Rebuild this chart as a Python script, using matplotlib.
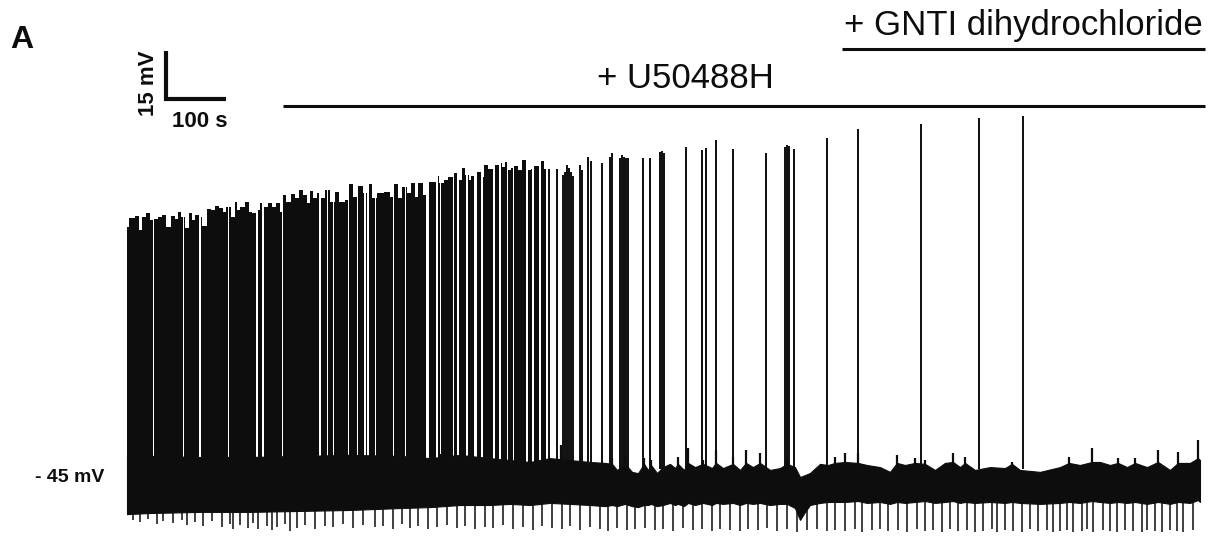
import matplotlib
matplotlib.use("Agg")
import matplotlib.pyplot as plt

# ---------------- data (time in s from trace start, membrane potential in mV) ----------------
# upper envelope of the dense firing period (spike tips)
burst_t = [0, 8.3, 16.7, 21.7, 28.3, 35, 41.7, 48.3, 55, 61.7, 68.3, 76.7, 83.3, 86.7, 93.3, 100,
           105, 110, 116.7, 121.7, 128.3, 136.7, 143.3, 150, 156.7, 163.3, 168.3, 176.7, 181.7, 185,
           193.3, 200, 205, 211.7, 218.3, 225, 231.7, 238.3, 245, 251.7, 258.3, 263.3, 268.3, 276.7,
           283.3, 290, 296.7, 301.7, 308.3, 313.3, 320, 326.7, 333.3, 343.3, 350, 358.3, 366.7, 371.7,
           381.7, 388.3, 396.7, 405, 411.7, 421.7, 435, 441.7, 446.7, 455, 461.7, 470, 476.7, 483.3,
           488.3, 496.7, 505, 511.7, 518.3, 523.3, 531.7, 538.3, 546.7, 555, 560, 566.7, 571.7, 575,
           580, 588.3, 593.3, 598.3, 605, 616.7, 621.7, 626.7, 631.7, 638.3, 643.3, 648.3, 655, 663.3,
           670, 675, 683.3, 693.3, 698.3]
burst_top = [35.6, 38.4, 39.1, 34.7, 38.75, 40.0, 37.8, 38.1, 38.75, 39.4, 35.6, 39.1, 38.1, 40.3,
             38.75, 35.3, 40.0, 37.8, 39.4, 38.75, 35.9, 41.25, 40.9, 42.2, 41.6, 40.3, 41.9, 38.75,
             43.4, 40.9, 41.9, 43.4, 40.3, 40.0, 40.9, 43.1, 41.9, 43.1, 41.9, 43.1, 40.3, 45.6, 43.4,
             45.9, 44.7, 47.2, 45.6, 43.1, 46.9, 44.7, 46.25, 44.7, 47.2, 43.4, 46.6, 43.4, 44.1, 49.1,
             45.0, 48.4, 46.25, 49.1, 44.7, 46.25, 46.6, 45.0, 49.1, 44.7, 48.1, 46.25, 49.4, 45.0,
             49.4, 45.6, 49.7, 49.7, 51.6, 49.4, 50.3, 51.25, 52.5, 50.3, 54.1, 51.9, 50.3, 51.6,
             53.4, 52.8, 51.25, 55.0, 53.75, 55.0, 55.6, 54.4, 55.9, 53.4, 54.1, 54.7, 53.4, 56.6,
             53.4, 53.75, 54.7, 56.25, 53.75]

# short silent intervals inside the dense firing period
gap_start = [42.5, 92.5, 120.8, 167.5, 215.8, 225.8, 257.5, 304.2, 309.2, 320.8, 332.5, 342.5,
             354.2, 367.5, 382.5, 395.8, 400.8, 412.5, 429.2, 442.5, 454.2, 462.5, 474.2, 484.2,
             498.3, 515, 521.7, 529.2, 542.5, 550, 554.2, 565.8, 578.3, 590.8, 599.2, 610, 620.8,
             632.5, 642.5, 654.2, 665.8, 675.8, 686.7]
gap_end = [44.2, 94.2, 122.5, 169.2, 217.5, 227.5, 259.2, 305.8, 310.8, 322.5, 334.2, 344.2,
           355.8, 369.2, 384.2, 397.5, 402.5, 414.2, 430.8, 444.2, 455.8, 464.2, 475.8, 485.8,
           503.3, 517.5, 523.3, 530.8, 544.2, 552.5, 555.8, 567.5, 583.3, 592.5, 600.8, 613.3, 622.5,
           634.2, 644.2, 655.8, 667.5, 678.3, 690]

# isolated action potentials after the dense period
spike_t = [703.3, 716.7, 726.7, 730, 733.3, 736.7, 740, 743.3, 755, 758.3, 768.3, 773.3, 791.7,
           805, 808.3, 821.7, 825, 828.3, 831.7, 835, 860, 871.7, 888.3, 891.7, 895, 931.7, 958.3,
           965, 981.7, 1010, 1065, 1096.7, 1100, 1103.3, 1111.7, 1166.7, 1218.3, 1323.3, 1420,
           1493.3]
spike_peak = [53.75, 53.75, 51.9, 52.8, 55.0, 54.1, 52.8, 51.6, 55.0, 53.4, 57.5, 56.25, 55.6,
              57.5, 58.75, 57.2, 58.1, 57.5, 57.2, 57.2, 57.2, 57.2, 59.1, 59.4, 58.75, 60.6, 59.7,
              60.3, 62.8, 60.0, 58.75, 60.6, 61.25, 60.9, 60.0, 63.4, 66.25, 67.8, 69.7, 70.3]

# noisy sub-threshold baseline: upper / lower edges
band_t = [0, 38.3, 121.7, 205, 288.3, 371.7, 455, 505, 555, 605, 638.3, 671.7, 705, 738.3, 771.7,
          796.7, 808.3, 816.7, 830, 841.7, 851.7, 861.7, 868.3, 873.3, 883.3, 893.3, 905, 913.3,
          918.3, 928.3, 935, 946.7, 960, 975, 981.7, 993.3, 1010, 1021.7, 1031.7, 1043.3, 1055,
          1071.7, 1088.3, 1100, 1113.3, 1121.7, 1130, 1138.3, 1155, 1168.3, 1180, 1196.7, 1218.3,
          1233.3, 1255, 1271.7, 1283.3, 1296.7, 1313.3, 1330, 1346.7, 1363.3, 1376.7, 1388.3,
          1396.7, 1413.3, 1438.3, 1463.3, 1475, 1488.3, 1521.7, 1555, 1570, 1588.3, 1608.3, 1621.7,
          1638.3, 1651.7, 1666.7, 1680, 1700, 1718.3, 1738.3, 1751.7, 1771.7, 1785, 1788.3]
band_hi = [-35.6, -35.9, -36.25, -36.25, -35.9, -35.6, -35.9, -36.6, -35.6, -36.6, -37.2, -37.8,
           -36.6, -37.2, -37.8,
           -38.1, -38.4, -40.3, -38.4, -40.9, -41.3, -38.4, -40.3, -38.75, -41.25, -39.4, -38.4,
           -39.7, -38.4, -40.3, -38.1, -39.4, -38.4, -39.7, -38.1, -39.7, -38.4, -40.3, -38.1,
           -39.4, -38.1, -40.3, -39.7, -38.4, -39.4, -42.5, -41.9, -41.25, -38.4, -38.75, -38.1,
           -37.8, -38.1, -38.75, -39.4, -40.9, -38.1, -38.75, -38.1, -38.4, -40.3, -38.1, -37.8,
           -39.4, -38.1, -40.3, -39.4, -39.7, -38.4, -40.3, -40.9, -39.4, -38.1, -38.75, -37.8,
           -37.8, -38.75, -38.1, -39.4, -38.1, -39.4, -37.8, -40.3, -38.1, -38.1, -36.6, -37.2]
band_lo = [-54.1, -53.75, -53.4, -53.4, -53.1, -52.8, -52.2, -51.9, -51.25, -51.25, -50.9, -51.25,
           -50.6, -50.9, -51.25, -51.6, -51.25, -51.6, -50.9, -51.6, -51.9, -51.25, -51.25, -50.9,
           -51.6, -51.25, -50.6, -51.25, -50.9, -51.6, -50.6, -51.25, -50.6, -51.25, -50.6, -50.9,
           -50.6, -51.25, -50.6, -50.9, -50.6, -51.25, -50.9, -50.9, -52.2, -55.9, -53.4, -51.25,
           -50.6, -50.3, -50.3, -50.3, -50.0, -50.6, -50.3, -50.9, -50.3, -50.6, -50.3, -50.0,
           -50.6, -50.3, -50.0, -50.6, -50.3, -50.6, -50.3, -50.6, -50.3, -50.6, -50.9, -50.6,
           -50.3, -50.6, -50.0, -50.3, -50.6, -50.3, -50.6, -50.3, -50.9, -50.3, -50.9, -50.3,
           -50.6, -49.7, -50.3]

# brief depolarising noise peaks riding on the baseline
noise_t = [521.7, 571.7, 655, 723.3, 808.3, 830, 861.7, 873.3, 918.3, 935, 960, 981.7, 1010,
           1031.7, 1055, 1100, 1180, 1196.7, 1218.3, 1283.3, 1313.3, 1330, 1376.7, 1396.7, 1475,
           1570, 1608.3, 1651.7, 1680, 1718.3, 1751.7, 1785]
noise_v = [-35.3, -35.9, -36.6, -32.5, -36.6, -36.25, -36.6, -37.2, -36.25, -33.4, -37.2, -34.1,
           -36.25, -34.1, -35.0, -36.6, -36.25, -35.0, -35.0, -35.6, -36.6, -37.2, -35.0, -36.25,
           -37.8, -36.25, -33.4, -36.6, -36.6, -34.1, -34.7, -30.9]

# brief hyperpolarising deflections below the baseline
trough_t = [10, 21.7, 35, 50, 60, 76.7, 91.7, 100, 113.3, 126.7,
            141.7, 158.3, 171.7, 176.7, 188.3, 201.7, 210, 218.3, 233.3, 241.7,
            250, 263.3, 271.7, 283.3, 296.7, 313.3, 330, 343.3, 360, 376.7,
            393.3, 413.3, 426.7, 443.3, 458.3, 471.7, 485, 501.7, 516.7, 533.3,
            550, 563.3, 580, 596.7, 610, 626.7, 643.3, 660, 676.7, 691.7,
            708.3, 725, 738.3, 755, 771.7, 788.3, 801.7, 816.7, 833.3, 846.7,
            863.3, 880, 893.3, 910, 926.7, 943.3, 958.3, 975, 988.3, 1005,
            1021.7, 1035, 1051.7, 1066.7, 1083.3, 1100, 1116.7, 1133.3, 1150, 1166.7,
            1180, 1196.7, 1213.3, 1225, 1241.7, 1255, 1268.3, 1285, 1300, 1316.7,
            1330, 1343.3, 1358.3, 1371.7, 1385, 1400, 1413.3, 1426.7, 1441.7, 1450,
            1463.3, 1476.7, 1491.7, 1505, 1518.3, 1533.3, 1543.3, 1555, 1566.7, 1576.7,
            1591.7, 1600, 1610, 1626.7, 1638.3, 1650, 1663.3, 1676.7, 1691.7, 1700,
            1713.3, 1725, 1738.3, 1750, 1760, 1776.7]
trough_v = [-55.9, -56.6, -55.6, -57.2, -56.3, -56.9, -55.9, -57.5, -56.6, -57.8,
            -56.3, -58.1, -57.2, -58.8, -57.5, -58.4, -56.9, -58.8, -57.8, -59.1,
            -58.1, -57.2, -59.4, -58.4, -57.5, -58.8, -57.8, -58.1, -57.2, -58.4,
            -57.5, -58.1, -57.8, -58.8, -57.2, -58.4, -57.8, -58.8, -58.1, -57.5,
            -58.4, -57.8, -58.8, -58.1, -58.4, -57.5, -58.8, -58.1, -59.1, -57.8,
            -58.4, -58.8, -57.8, -59.1, -58.1, -58.8, -59.4, -58.4, -59.1, -58.8,
            -58.4, -59.1, -58.8, -59.4, -58.4, -59.1, -58.8, -59.4, -58.8, -59.1,
            -59.4, -58.8, -59.1, -58.4, -59.4, -58.8, -59.7, -59.1, -58.8, -59.4,
            -59.1, -59.4, -58.8, -59.7, -59.1, -58.8, -59.4, -59.1, -59.7, -58.8,
            -59.4, -59.1, -59.7, -58.8, -59.4, -59.1, -59.7, -59.4, -58.8, -59.7,
            -59.1, -59.4, -59.7, -58.8, -59.4, -59.1, -59.7, -59.4, -59.1, -59.7,
            -59.4, -58.8, -59.7, -59.1, -59.4, -59.7, -59.1, -59.4, -59.7, -59.1,
            -59.4, -59.7, -59.1, -59.4, -59.7, -59.1]

# drug applications
drug_names = ["+ U50488H", "+ GNTI dihydrochloride"]
drug_start = [260, 1191.7]
drug_end = [1796.7, 1796.7]

# scale bar
scale_mV = 15
scale_s = 100
baseline_label = "- 45 mV"
panel_label = "A"

# ---------------- figure ----------------
W, H, DPI = 1208, 542, 100
fig = plt.figure(figsize=(W / DPI, H / DPI), dpi=DPI)
ax = fig.add_axes([0, 0, 1, 1])
ax.set_xlim(-211.67, 1801.67)
ax.set_ylim(-62.81, 106.56)
ax.axis("off")

INK = "#0d0d0d"
FONT = ["Liberation Sans", "DejaVu Sans"]

ax.fill_between(burst_t, -45, burst_top, step="mid", color=INK, lw=0, zorder=1)
for s, e in zip(gap_start, gap_end):
    ax.fill_between([s, e], -45, 65, color="white", lw=0, zorder=2)
ax.fill_between(band_t, band_lo, band_hi, color=INK, lw=0.8, edgecolor=INK, zorder=3)
ax.vlines(noise_t, -40, noise_v, color=INK, lw=1.6, zorder=3)
ax.vlines(trough_t, -49, trough_v, color=INK, lw=1.1, zorder=3)
ax.vlines(spike_t, -40, spike_peak, color=INK, lw=1.4, zorder=4)

# drug bars and labels
bar_y = [73.4, 91.25]
lab_y = [79.1, 95.6]
lab_x = [930, None]
for name, s, e, by, ly, lx in zip(drug_names, drug_start, drug_end, bar_y, lab_y, lab_x):
    ax.plot([s, e], [by, by], color=INK, lw=2.2, solid_capstyle="butt")
    ax.text(lx if lx is not None else (s + e) / 2, ly, name, ha="center", va="baseline",
            fontsize=25, family=FONT, color=INK)

# scale bar
x0, y0 = 65, 75.6
ax.plot([x0, x0, x0 + scale_s], [y0 + scale_mV, y0, y0], color=INK, lw=3.0,
        solid_joinstyle="miter", solid_capstyle="butt")
ax.text(x0 - 30, y0 + 5.0, f"{scale_mV} mV", rotation=90, ha="center", va="center",
        fontsize=16, fontweight="bold", family=FONT, color=INK)
ax.text(x0 + 56.7, y0 - 8.8, f"{scale_s} s", ha="center", va="baseline",
        fontsize=16, fontweight="bold", family=FONT, color=INK)

fig.text(10 / W, 1 - 48 / H, panel_label, ha="left", va="baseline",
         fontsize=23, fontweight="bold", family=FONT, color=INK)
fig.text(35 / W, 1 - 478 / H, baseline_label, ha="left", va="center",
         fontsize=14, fontweight="bold", family=FONT, color=INK)

fig.savefig("out.png", dpi=DPI)
